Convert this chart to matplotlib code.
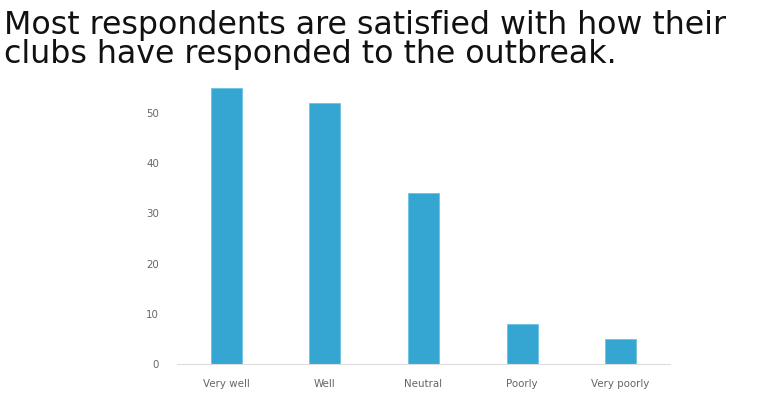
import matplotlib.pyplot as plt

categories = ["Very well", "Well", "Neutral", "Poorly", "Very poorly"]
responses = [55, 52, 34, 8, 5]
yticks = [0, 10, 20, 30, 40, 50]

title_lines = ["Most respondents are satisfied with how their",
               "clubs have responded to the outbreak."]

fig = plt.figure(figsize=(7.69, 3.95), dpi=100)
ax = fig.add_axes([0.2302, 0.0785, 0.641, 0.7115])

x = range(len(categories))
ax.bar(x, responses, width=0.315, color="#35A6D2", edgecolor="#6CC3E6", linewidth=0.6)

ax.set_xlim(-0.5, len(categories) - 0.5)
ax.set_ylim(0, 56)
ax.set_yticks(yticks)
ax.set_xticks(list(x))
ax.set_xticklabels(categories)
ax.tick_params(axis="both", length=0, labelsize=7.4, labelcolor="#666666")
ax.tick_params(axis="y", pad=13)
ax.tick_params(axis="x", pad=11)

for side in ["top", "right", "left"]:
    ax.spines[side].set_visible(False)
ax.spines["bottom"].set_color("#DDDDDD")
ax.spines["bottom"].set_linewidth(0.8)

fig.text(0.005, 0.915, title_lines[0], fontsize=22.8, family="DejaVu Sans", color="#111111")
fig.text(0.005, 0.84, title_lines[1], fontsize=22.8, family="DejaVu Sans", color="#111111")

fig.savefig("out.png", dpi=100)
